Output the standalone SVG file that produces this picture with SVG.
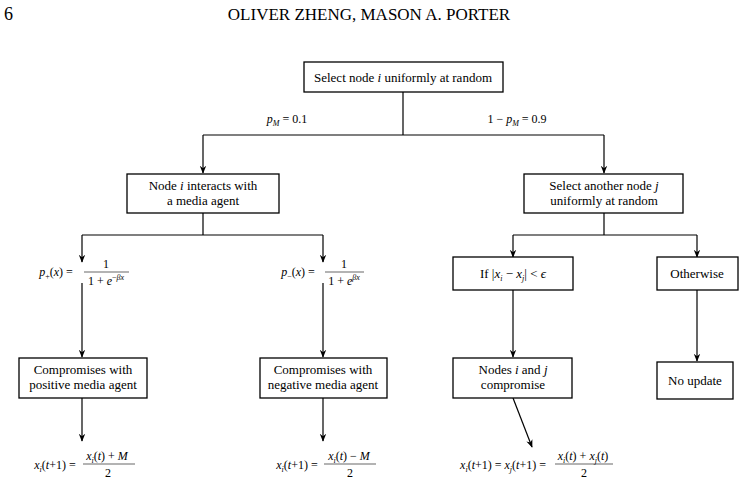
<svg xmlns="http://www.w3.org/2000/svg" width="739" height="483" viewBox="0 0 739 483">
<style>
text{font-family:"Liberation Serif","DejaVu Serif",serif;font-size:13px;fill:#000}
.c{text-anchor:middle}
.m{text-anchor:middle;font-size:12px}
.box{fill:#fff;stroke:#000;stroke-width:1.3}
.ln{fill:none;stroke:#000;stroke-width:1.2}
.fr{stroke:#000;stroke-width:0.6}
</style>
<defs><marker id="a" viewBox="0 0 10 10" refX="9" refY="5" markerWidth="8" markerHeight="8" orient="auto" markerUnits="userSpaceOnUse"><path d="M0,1 L10,5 L0,9 L3,5 Z" fill="#000"/></marker></defs>
<text x="4" y="20" style="font-size:18px">6</text>
<text x="369" y="20" class="c" style="font-size:17px;font-variant:small-caps">OLIVER ZHENG, MASON A. PORTER</text>
<g id="connectors" class="ln">
<path d="M403,92 V135 M203,135 H604"/>
<path d="M203,135 V173" marker-end="url(#a)"/>
<path d="M604,135 V173" marker-end="url(#a)"/>
<path d="M203,213 V235 M82,235 H323"/>
<path d="M82,235 V262" marker-end="url(#a)"/>
<path d="M323,235 V262" marker-end="url(#a)"/>
<path d="M604,213 V235 M513,235 H697"/>
<path d="M513,235 V257" marker-end="url(#a)"/>
<path d="M697,235 V257" marker-end="url(#a)"/>
<path d="M82,283 V357" marker-end="url(#a)"/>
<path d="M323,283 V357" marker-end="url(#a)"/>
<path d="M513,290 V357" marker-end="url(#a)"/>
<path d="M697,290 V361" marker-end="url(#a)"/>
<path d="M82,398 V441" marker-end="url(#a)"/>
<path d="M323,398 V441" marker-end="url(#a)"/>
<path d="M513,398 L532,447" marker-end="url(#a)"/>
</g>
<g id="n1"><rect class="box" x="304" y="62" width="199" height="30"/><text x="403" y="82" class="c">Select node <tspan font-style="italic">i</tspan> uniformly at random</text></g>
<text x="287" y="123" class="m"><tspan font-style="italic">p</tspan><tspan font-style="italic" font-size="8" dy="3">M</tspan><tspan dy="-3"> = 0.1</tspan></text>
<text x="517" y="123" class="m">1 − <tspan font-style="italic">p</tspan><tspan font-style="italic" font-size="8" dy="3">M</tspan><tspan dy="-3"> = 0.9</tspan></text>
<g id="n2"><rect class="box" x="127" y="174" width="152" height="39"/><text x="203" y="190" class="c">Node <tspan font-style="italic">i</tspan> interacts with</text><text x="203" y="205" class="c">a media agent</text></g>
<g id="n3"><rect class="box" x="524" y="174" width="159" height="39"/><text x="604" y="190" class="c">Select another node <tspan font-style="italic">j</tspan></text><text x="604" y="205" class="c">uniformly at random</text></g>
<g id="f1"><text x="56" y="276" class="m"><tspan font-style="italic">p</tspan><tspan font-size="8" dy="3">+</tspan><tspan dy="-3">(</tspan><tspan font-style="italic">x</tspan>) =</text><text x="106" y="268" class="m">1</text><line class="fr" x1="84" y1="272" x2="129" y2="272"/><text x="106" y="285" class="m">1 + <tspan font-style="italic">e</tspan><tspan font-size="8" dy="-5">−<tspan font-style="italic">βx</tspan></tspan></text></g>
<g id="f2"><text x="298" y="276" class="m"><tspan font-style="italic">p</tspan><tspan font-size="8" dy="3">−</tspan><tspan dy="-3">(</tspan><tspan font-style="italic">x</tspan>) =</text><text x="344" y="268" class="m">1</text><line class="fr" x1="325" y1="272" x2="364" y2="272"/><text x="344" y="285" class="m">1 + <tspan font-style="italic">e</tspan><tspan font-size="8" dy="-5" font-style="italic">βx</tspan></text></g>
<g id="n4"><rect class="box" x="453" y="257" width="120" height="33"/><text x="513" y="278" class="c">If |<tspan font-style="italic">x</tspan><tspan font-style="italic" font-size="8" dy="3">i</tspan><tspan dy="-3"> − </tspan><tspan font-style="italic">x</tspan><tspan font-style="italic" font-size="8" dy="3">j</tspan><tspan dy="-3">| &lt; </tspan><tspan font-style="italic">ϵ</tspan></text></g>
<g id="n5"><rect class="box" x="657" y="257" width="81" height="33"/><text x="697" y="278" class="c">Otherwise</text></g>
<g id="n6"><rect class="box" x="19" y="358" width="128" height="40"/><text x="83" y="374" class="c">Compromises with</text><text x="83" y="389" class="c">positive media agent</text></g>
<g id="n7"><rect class="box" x="260" y="358" width="127" height="40"/><text x="323" y="374" class="c">Compromises with</text><text x="323" y="389" class="c">negative media agent</text></g>
<g id="n8"><rect class="box" x="453" y="358" width="119" height="40"/><text x="513" y="374" class="c">Nodes <tspan font-style="italic">i</tspan> and <tspan font-style="italic">j</tspan></text><text x="513" y="389" class="c">compromise</text></g>
<g id="n9"><rect class="box" x="657" y="362" width="76" height="37"/><text x="695" y="385" class="c">No update</text></g>
<g id="f3"><text x="55" y="469" class="m"><tspan font-style="italic">x</tspan><tspan font-style="italic" font-size="8" dy="3">i</tspan><tspan dy="-3">(</tspan><tspan font-style="italic">t</tspan>+1) =</text><text x="107" y="460" class="m"><tspan font-style="italic">x</tspan><tspan font-style="italic" font-size="8" dy="3">i</tspan><tspan dy="-3">(</tspan><tspan font-style="italic">t</tspan>) + <tspan font-style="italic">M</tspan></text><line class="fr" x1="83" y1="464" x2="135" y2="464"/><text x="108" y="477" class="m">2</text></g>
<g id="f4"><text x="297" y="469" class="m"><tspan font-style="italic">x</tspan><tspan font-style="italic" font-size="8" dy="3">i</tspan><tspan dy="-3">(</tspan><tspan font-style="italic">t</tspan>+1) =</text><text x="349" y="460" class="m"><tspan font-style="italic">x</tspan><tspan font-style="italic" font-size="8" dy="3">i</tspan><tspan dy="-3">(</tspan><tspan font-style="italic">t</tspan>) − <tspan font-style="italic">M</tspan></text><line class="fr" x1="324" y1="464" x2="376" y2="464"/><text x="350" y="477" class="m">2</text></g>
<g id="f5"><text x="503" y="469" class="m"><tspan font-style="italic">x</tspan><tspan font-style="italic" font-size="8" dy="3">i</tspan><tspan dy="-3">(</tspan><tspan font-style="italic">t</tspan>+1) = <tspan font-style="italic">x</tspan><tspan font-style="italic" font-size="8" dy="3">j</tspan><tspan dy="-3">(</tspan><tspan font-style="italic">t</tspan>+1) =</text><text x="583" y="460" class="m"><tspan font-style="italic">x</tspan><tspan font-style="italic" font-size="8" dy="3">i</tspan><tspan dy="-3">(</tspan><tspan font-style="italic">t</tspan>) + <tspan font-style="italic">x</tspan><tspan font-style="italic" font-size="8" dy="3">j</tspan><tspan dy="-3">(</tspan><tspan font-style="italic">t</tspan>)</text><line class="fr" x1="555" y1="464" x2="613" y2="464"/><text x="584" y="477" class="m">2</text></g>
</svg>
